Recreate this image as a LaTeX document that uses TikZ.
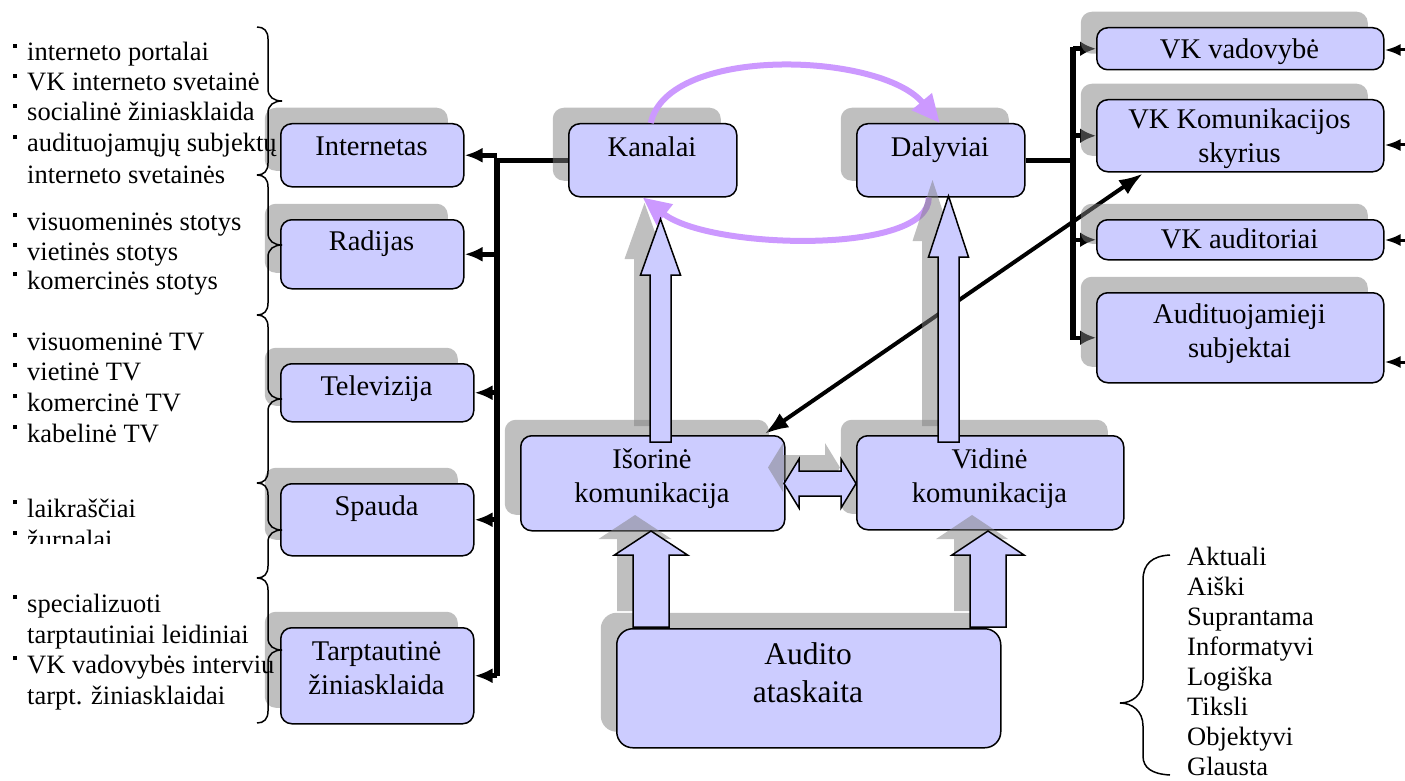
\documentclass[tikz,border=0pt]{standalone}
\usepackage{fontspec}
\setmainfont{Liberation Serif}
\usetikzlibrary{arrows.meta,calc,shadows}
\pgfdeclarelayer{conn}
\pgfdeclarelayer{fg}
\pgfsetlayers{conn,main,fg}
\definecolor{lav}{RGB}{204,204,255}
\definecolor{purp}{RGB}{204,153,255}
\definecolor{shd}{RGB}{128,128,128}
\newcommand\bul{\makebox[14pt][l]{\raisebox{13pt}{\rule{4pt}{4pt}}}}
\newcommand\st{\rule{0pt}{30pt}}
\newcommand\boxfont{\fontsize{28.5}{34}\selectfont}
\newcommand\bigboxfont{\fontsize{31.5}{38}\selectfont}
\newcommand\lstfont{\fontsize{26.5}{30}\selectfont}
\begin{document}
\begin{tikzpicture}[x=1pt,y=-1pt,
  bx/.style={draw, line width=1.5pt, fill=lav, rounded corners=11pt, inner sep=0pt, anchor=north west,
    general shadow={fill=shd, opacity=.5, shadow xshift=-16pt, shadow yshift=16pt}},
  bt/.style={inner sep=0pt, anchor=north, align=center, font=\boxfont},
  lst/.style={inner sep=0pt, anchor=base west, font=\lstfont},
  busline/.style={line width=5.5pt, line join=miter},
  busarr/.style={line width=5pt, -{Latex[length=18pt,width=15pt]}},
  rbusarr/.style={line width=4.5pt, -{Latex[length=16pt,width=15pt]}},
  edgearr/.style={line width=3pt, -{Latex[length=16pt,width=12pt]}},
  diag/.style={line width=4pt, {Latex[length=24pt,width=17pt]}-{Latex[length=24pt,width=17pt]}},
  parc/.style={draw=purp, line width=6pt, -{Triangle[length=28pt,width=25pt]}},
  bshad/.style={fill=shd, opacity=.5},
  block/.style={draw, line width=1.5pt, fill=lav, line join=miter},
  brc/.style={line width=1.5pt}
]
\useasboundingbox (0,0) rectangle (1405,781);

\newcommand\mkbox[6][11pt]{\node[bx, rounded corners=#1, minimum width={#5-#3}, minimum height={#6-#4}] (#2) at (#3,#4) {};}
\newcommand\upblock[6]{%
  \fill[bshad] ({#1-#5-16},{#2-16}) -- ({#1-#5-16},{#3-16}) -- ({#1-#6-16},{#3-16}) -- ({#1-16},{#4-16}) -- ({#1+#6-16},{#3-16}) -- ({#1+#5-16},{#3-16}) -- ({#1+#5-16},{#2-16}) -- cycle;
  \filldraw[block] ({#1-#5},#2) -- ({#1-#5},#3) -- ({#1-#6},#3) -- (#1,#4) -- ({#1+#6},#3) -- ({#1+#5},#3) -- ({#1+#5},#2) -- cycle;}
\newcommand\rbr[3]{\draw[brc] (257,#1) .. controls (264,#1) and (268,{#1+4}) .. (268,{#1+12}) -- (268,{#2-12}) .. controls (268,{#2-4}) and (274,#2) .. (282,#2) .. controls (274,#2) and (268,{#2+4}) .. (268,{#2+12}) -- (268,{#3-12}) .. controls (268,{#3-4}) and (264,#3) .. (257,#3);}

% ---------- boxes ----------
\mkbox{int}{280}{123}{463}{186}
\mkbox{rad}{280}{219}{463}{288}
\mkbox{tel}{280}{363}{473}{421}
\mkbox{spa}{280}{483}{473}{555}
\mkbox{tar}{280}{627}{473}{723}
\mkbox{kan}{568}{123}{736}{196}
\mkbox{dal}{856}{123}{1024}{196}
\mkbox{iso}{520}{435}{784}{530}
\mkbox{vid}{856}{435}{1123}{529}
\mkbox[16pt]{aud}{616}{628}{1000}{747}
\mkbox{vkv}{1096}{27}{1383}{69}
\mkbox{vkk}{1096}{99}{1383}{171}
\mkbox{vka}{1096}{219}{1383}{259}
\mkbox{aus}{1096}{292}{1383}{382}

\node[bt] (int-t) at (371.5,125) {\st Internetas};
\node[bt] (rad-t) at (371.5,220) {\st Radijas};
\node[bt] (tel-t) at (376.5,365) {\st Televizija};
\node[bt] (spa-t) at (376.5,485) {\st Spauda};
\node[bt] (tar-t) at (376.5,630) {\st Tarptautinė\\žiniasklaida};
\node[bt] (kan-t) at (652,126) {\st Kanalai};
\node[bt] (dal-t) at (940,126) {\st Dalyviai};
\node[bt] (iso-t) at (652,438) {\st Išorinė\\komunikacija};
\node[bt] (vid-t) at (989.5,438) {\st Vidinė\\komunikacija};
\node[bt, font=\bigboxfont] (aud-t) at (808,634) {\st Audito\\ataskaita};
\node[bt] (vkv-t) at (1239.5,28) {\st VK vadovybė};
\node[bt] (vkk-t) at (1239.5,98) {\st VK Komunikacijos\\skyrius};
\node[bt] (vka-t) at (1239.5,218) {\st VK auditoriai};
\node[bt] (aus-t) at (1239.5,293) {\st Audituojamieji\\subjektai};

% ---------- connectors (under the shadows) ----------
\coordinate (busL) at (497,0);
\coordinate (busR) at (1073,0);
\coordinate (e1) at (1412,50);
\coordinate (e2) at (1412,145);
\coordinate (e3) at (1412,240);
\coordinate (e4) at (1412,362);
\begin{pgfonlayer}{conn}
\draw[busline] (kan.west) -| (tar.east -| busL);
\foreach \b in {int,rad,tel,spa,tar} \draw[busarr] (\b.east -| busL) -- (\b.east);
\draw[busline] (dal.east) -- (dal.east -| busR);
\draw[busline] ($(vkv.west -| busR)+(0,-2)$) -- ($(aus.west -| busR)+(0,2)$);
\foreach \b in {vkv,vkk,vka,aus} \draw[rbusarr] (\b.west -| busR) -- (\b.west);
\draw[edgearr] (e1) -- (e1 -| vkv.east);
\draw[edgearr] (e2) -- (e2 -| vkk.east);
\draw[edgearr] (e3) -- (e3 -| vka.east);
\draw[edgearr] (e4) -- (e4 -| aus.east);
\draw[diag] ($(iso.north east)+(-21,-1)$) -- ($(vkk.south west)+(47,1)$);
\end{pgfonlayer}

% ---------- arcs and block arrows ----------
\begin{pgfonlayer}{fg}
\draw[parc] ($(kan.north)+(-2,0)$) .. controls (668,45) and (880,52) .. ($(dal.north)+(-1,0)$);
\draw[parc] ($(dal.south)+(-12,0)$) .. controls (930,255) and (710,250) .. ($(kan.south)+(-10,0)$);
\upblock{660.5}{442}{275}{219}{10.5}{20}
\upblock{948.5}{442}{257}{196}{10.5}{20}
\upblock{651}{627}{555}{531}{18}{36.5}
\upblock{988}{627}{555}{531}{18}{36}
\fill[bshad] (768,467.5) -- (783,443) -- (783,455) -- (825,455) -- (825,443) -- (840,467.5) -- (825,492) -- (825,480) -- (783,480) -- (783,492) -- cycle;
\filldraw[block] (784,483.5) -- (799,459) -- (799,471) -- (841,471) -- (841,459) -- (856,483.5) -- (841,508) -- (841,496) -- (799,496) -- (799,508) -- cycle;
\end{pgfonlayer}

% ---------- left lists ----------
\foreach \y/\t [count=\i] in {61/interneto portalai, 91/VK interneto svetainė, 121/socialinė žiniasklaida, 152/audituojamųjų subjektų, 230/visuomeninės stotys, 260/vietinės stotys, 289/komercinės stotys, 350/visuomeninė TV, 380/vietinė TV, 411/komercinė TV, 442/kabelinė TV, 517/laikraščiai, 612/specializuoti, 673/VK vadovybės interviu}
  \node[lst] (lb\i) at (13,\y) {\bul\t};
\foreach \y/\t [count=\i] in {183/interneto svetainės, 643/tarptautiniai leidiniai, 704/tarpt. žiniasklaidai}
  \node[lst] (ln\i) at (27,\y) {\t};
\begin{scope}
\clip (0,500) rectangle (270,543);
\node[lst] (lzur) at (13,548) {\bul žurnalai};
\end{scope}

\rbr{27}{101}{175}
\rbr{175}{245}{315}
\rbr{315}{399}{483}
\rbr{483}{530}{578}
\rbr{578}{650}{723}

% ---------- right list ----------
\foreach \y/\t [count=\i] in {565/Aktuali, 595/Aiški, 625/Suprantama, 655/Informatyvi, 685/Logiška, 715/Tiksli, 745/Objektyvi, 775/Glausta}
  \node[lst] (r\i) at (1187,\y) {\t};
\draw[brc] (1170,555) .. controls (1152,556) and (1143,564) .. (1143,580) -- (1143,680) .. controls (1143,695) and (1132,703) .. (1120,703) .. controls (1132,703) and (1143,711) .. (1143,726) -- (1143,756) .. controls (1143,768) and (1152,774) .. (1170,775);
\end{tikzpicture}
\end{document}
